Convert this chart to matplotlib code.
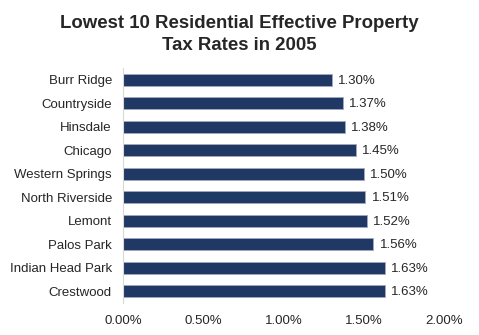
import matplotlib
matplotlib.use("Agg")
import matplotlib.pyplot as plt
from matplotlib.ticker import FuncFormatter

cities = ["Burr Ridge", "Countryside", "Hinsdale", "Chicago", "Western Springs",
          "North Riverside", "Lemont", "Palos Park", "Indian Head Park", "Crestwood"]
rates = [1.30, 1.37, 1.38, 1.45, 1.50, 1.51, 1.52, 1.56, 1.63, 1.63]
xticks = [0.0, 0.5, 1.0, 1.5, 2.0]

plt.rcParams['font.family'] = ['Liberation Sans', 'DejaVu Sans']

fig = plt.figure(figsize=(4.79, 3.35), dpi=100)
ax = fig.add_axes([0.257, 0.096, 0.670, 0.701])

y = list(range(len(cities)))
ax.barh(y, rates, height=0.52, color="#203864", edgecolor="#A6A6C0", linewidth=0.6)
ax.set_yticks(y)
ax.set_yticklabels(cities, fontsize=9.5, color="#262626")
ax.set_ylim(len(cities) - 0.5, -0.5)
ax.set_xlim(0, 2.0)
ax.set_xticks(xticks)
ax.xaxis.set_major_formatter(FuncFormatter(lambda v, p: f"{v:.2f}%"))
ax.tick_params(axis='x', labelsize=9.5, colors="#262626", length=0, pad=9)
ax.tick_params(axis='y', length=0, pad=8)

for s in ["top", "right", "bottom"]:
    ax.spines[s].set_visible(False)
ax.spines["left"].set_color("#D9D9D9")
ax.spines["left"].set_linewidth(0.8)

for yi, r in zip(y, rates):
    ax.text(r + 0.04, yi + 0.05, f"{r:.2f}%", va="center", ha="left", fontsize=9.5, color="#262626")

fig.text(0.5, 0.897, "Lowest 10 Residential Effective Property\nTax Rates in 2005",
         ha="center", va="center", fontsize=13.4, fontweight="bold", color="#262626",
         linespacing=1.35)

fig.savefig("out.png", dpi=100)
